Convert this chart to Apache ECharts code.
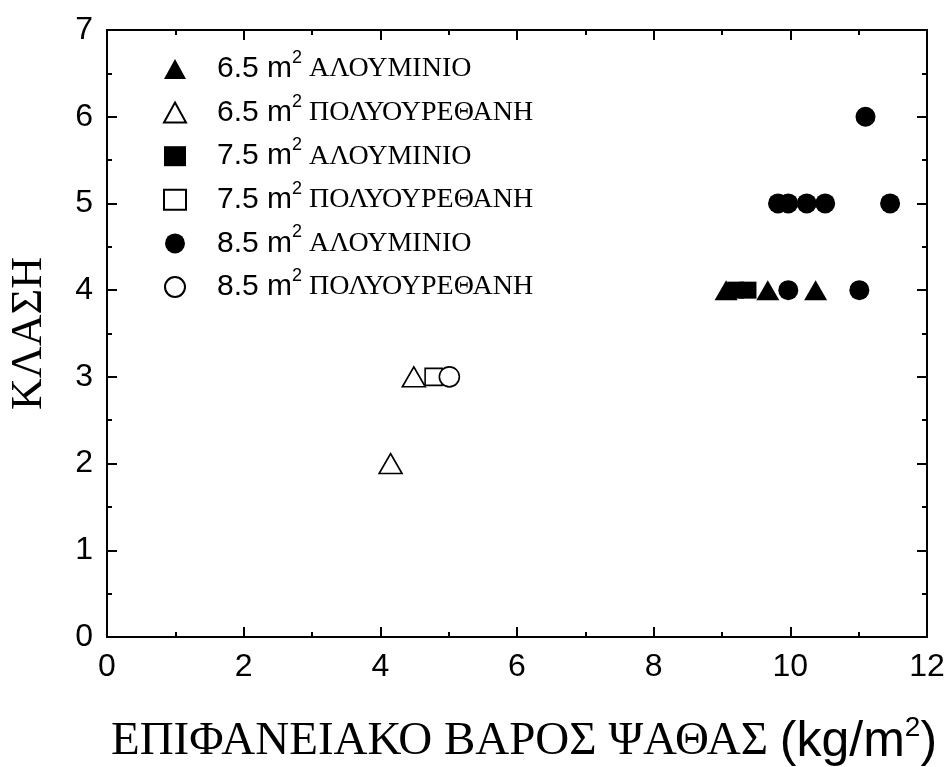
<!DOCTYPE html>
<html>
<head>
<meta charset="utf-8">
<script src="https://cdn.jsdelivr.net/npm/echarts@6/dist/echarts.min.js"></script>
<style>
  html, body { margin: 0; padding: 0; background: #fff; }
  #chart { width: 948px; height: 767px; }
</style>
</head>
<body>
<div id="chart"></div>
<script>
// series labels
var areas = ['6.5', '6.5', '7.5', '7.5', '8.5', '8.5'];
var materials = ['ΑΛΟΥΜΙΝΙΟ', 'ΠΟΛΥΟΥΡΕΘΑΝΗ', 'ΑΛΟΥΜΙΝΙΟ', 'ΠΟΛΥΟΥΡΕΘΑΝΗ', 'ΑΛΟΥΜΙΝΙΟ', 'ΠΟΛΥΟΥΡΕΘΑΝΗ'];

// [surface weight kg/m2, class]
var alu65 = [[9.06, 4], [9.67, 4], [10.37, 4]];
var poly65 = [[4.15, 2], [4.49, 3]];
var alu75 = [[9.2, 4], [9.38, 4]];
var poly75 = [[4.78, 3]];
var alu85 = [[9.97, 4], [11.01, 4], [9.82, 5], [9.97, 5], [10.24, 5], [10.51, 5], [11.46, 5], [11.1, 6]];
var poly85 = [[5.01, 3]];

var xTicks = [0, 2, 4, 6, 8, 10, 12];
var yTicks = [0, 1, 2, 3, 4, 5, 6, 7];

var myChart = echarts.init(document.getElementById('chart'));

function makeSeries(i, data, symbol, size, filled) {
    return {
        name: areas[i] + ' m2 ' + materials[i],
        type: 'scatter',
        data: data,
        symbol: symbol,
        symbolSize: size,
        itemStyle: {
            color: filled ? '#000' : '#fff',
            borderColor: '#000',
            borderWidth: filled ? 0 : 1.6,
            opacity: 1
        },
        emphasis: { disabled: true }
    };
}

var sans = 'Liberation Sans, Arial, sans-serif';
var serif = 'Liberation Serif, Times New Roman, serif';

var baseAxis = {
    min: 0,
    axisLine: { onZero: false, lineStyle: { color: '#000', width: 2 } },
    axisTick: { inside: true, length: 10, lineStyle: { color: '#000', width: 2 } },
    minorTick: { show: true, splitNumber: 2, length: 5, lineStyle: { color: '#000', width: 2 } },
    splitLine: { show: false }
};

var option = {
    animation: false,
    backgroundColor: '#fff',
    grid: { left: 107, right: 21, top: 30, bottom: 130, outerBoundsMode: 'none' },
    legend: {
        orient: 'vertical',
        left: 158,
        top: 44,
        itemGap: 8.6,
        itemWidth: 22,
        itemHeight: 20,
        selectedMode: false,
        formatter: function (name) {
            var i = option.series.findIndex(function (s) { return s.name === name; });
            return '{n|' + areas[i] + ' m}{s|2}{g| ' + materials[i] + '}';
        },
        textStyle: {
            rich: {
                n: { fontFamily: sans, fontSize: 30, lineHeight: 40, color: '#000', padding: [0, 0, 0, 26] },
                s: { fontFamily: sans, fontSize: 18, lineHeight: 18, color: '#000', verticalAlign: 'top' },
                g: { fontFamily: serif, fontSize: 28, lineHeight: 40, color: '#000' }
            }
        }
    },
    xAxis: [
        Object.assign({}, baseAxis, {
            type: 'value', max: 12, interval: 2, position: 'bottom',
            name: '{g|ΕΠΙΦΑΝΕΙΑΚΟ ΒΑΡΟΣ ΨΑΘΑΣ }{n|(kg/m}{s|2}{n|)}',
            nameLocation: 'middle', nameGap: 77,
            nameTextStyle: {
                padding: [0, 0, 0, 14],
                rich: {
                    g: { fontFamily: serif, fontSize: 47, lineHeight: 56, color: '#000' },
                    n: { fontFamily: sans, fontSize: 50, lineHeight: 56, color: '#000' },
                    s: { fontFamily: sans, fontSize: 28, lineHeight: 28, color: '#000', verticalAlign: 'top' }
                }
            },
            axisLabel: {
                margin: 14, color: '#000', fontSize: 32, fontFamily: sans,
                customValues: xTicks
            }
        }),
        Object.assign({}, baseAxis, {
            type: 'value', max: 12, interval: 2, position: 'top',
            axisLabel: { show: false }
        })
    ],
    yAxis: [
        Object.assign({}, baseAxis, {
            type: 'value', max: 7, interval: 1, position: 'left',
            name: 'ΚΛΑΣΗ', nameLocation: 'middle', nameGap: 56, nameRotate: 90,
            nameTextStyle: { fontFamily: serif, fontSize: 44, color: '#000' },
            axisLabel: {
                margin: 14, color: '#000', fontSize: 32, fontFamily: sans,
                customValues: yTicks
            }
        }),
        Object.assign({}, baseAxis, {
            type: 'value', max: 7, interval: 1, position: 'right',
            axisLabel: { show: false }
        })
    ],
    series: [
        makeSeries(0, alu65, 'triangle', [23, 20], true),
        makeSeries(1, poly65, 'triangle', [23, 20], false),
        makeSeries(2, alu75, 'rect', 17, true),
        makeSeries(3, poly75, 'rect', 17, false),
        makeSeries(4, alu85, 'circle', 20, true),
        makeSeries(5, poly85, 'circle', 20, false)
    ]
};

myChart.setOption(option);
</script>
</body>
</html>
